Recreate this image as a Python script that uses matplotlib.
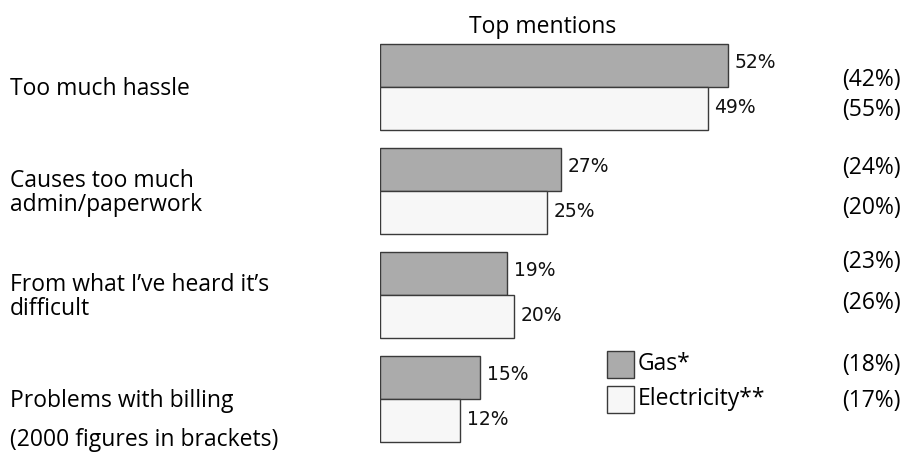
import matplotlib
matplotlib.use("Agg")
import matplotlib.pyplot as plt
import matplotlib.transforms as mtransforms
import numpy as np

plt.rcParams['font.family'] = ['Open Sans', 'DejaVu Sans']

categories = ["Too much hassle", "Causes too much\nadmin/paperwork",
              "From what I\u2019ve heard it\u2019s\ndifficult", "Problems with billing"]
gas = [52, 27, 19, 15]
electricity = [49, 25, 20, 12]
gas_2000 = ["(42%)", "(24%)", "(23%)", "(18%)"]
elec_2000 = ["(55%)", "(20%)", "(26%)", "(17%)"]
series = ["Gas*", "Electricity**"]

# where the bracketed 2000 figures sit, relative to each group centre
gas_2000_dy = [-0.07, -0.22, -0.32, -0.33]
elec_2000_dy = [0.22, 0.16, 0.08, 0.02]

W, H = 904, 455
fig = plt.figure(figsize=(W / 100, H / 100), dpi=100)

px_per_pct = 6.69
xmax = 78
top_px, bot_px = 35, 451
ax = fig.add_axes([380 / W, 1 - bot_px / H, xmax * px_per_pct / W, (bot_px - top_px) / H])
ax.set_xlim(0, xmax)
ax.set_ylim(3.5, -0.5)
ax.axis('off')

y = np.arange(len(categories))
h = 0.418
gas_col = "#ababab"
elec_col = "#f7f7f7"
edge = "#3a3a3a"
ax.barh(y - h / 2, gas, height=h, color=gas_col, edgecolor=edge, linewidth=1)
ax.barh(y + h / 2, electricity, height=h, color=elec_col, edgecolor=edge, linewidth=1)

fs = 16.5
vfs = 13.5
for i in range(len(categories)):
    ax.text(gas[i] + 1.0, y[i] - h / 2 - 0.03, f"{gas[i]}%", va='center', ha='left',
            fontsize=vfs, family='DejaVu Sans', color="#111111")
    ax.text(electricity[i] + 1.0, y[i] + h / 2 - 0.01, f"{electricity[i]}%", va='center', ha='left',
            fontsize=vfs, family='DejaVu Sans', color="#111111")

# x in figure fraction, y in data units
left_tr = mtransforms.blended_transform_factory(fig.transFigure, ax.transData)
for i, lab in enumerate(categories):
    ax.text(10 / W, y[i] + 0.02, lab, transform=left_tr, va='center', ha='left',
            fontsize=fs, linespacing=1.0)
    ax.text(901 / W, y[i] + gas_2000_dy[i], gas_2000[i], transform=left_tr,
            va='center', ha='right', fontsize=fs)
    ax.text(901 / W, y[i] + elec_2000_dy[i], elec_2000[i], transform=left_tr,
            va='center', ha='right', fontsize=fs)


def fy(py):
    return 1 - py / H


fig.text(10 / W, fy(440), "(2000 figures in brackets)", va='center', ha='left', fontsize=fs)
fig.text(543 / W, fy(27), "Top mentions", va='center', ha='center', fontsize=fs)

# legend drawn by hand
for py, col, lab in [(364, gas_col, series[0]), (399, elec_col, series[1])]:
    fig.patches.append(plt.Rectangle((607 / W, fy(py + 13.5)), 27 / W, 27 / H,
                                     transform=fig.transFigure, facecolor=col,
                                     edgecolor=edge, linewidth=1))
    fig.text(638 / W, fy(py), lab, va='center', ha='left', fontsize=fs)

fig.savefig("out.png", dpi=100)
